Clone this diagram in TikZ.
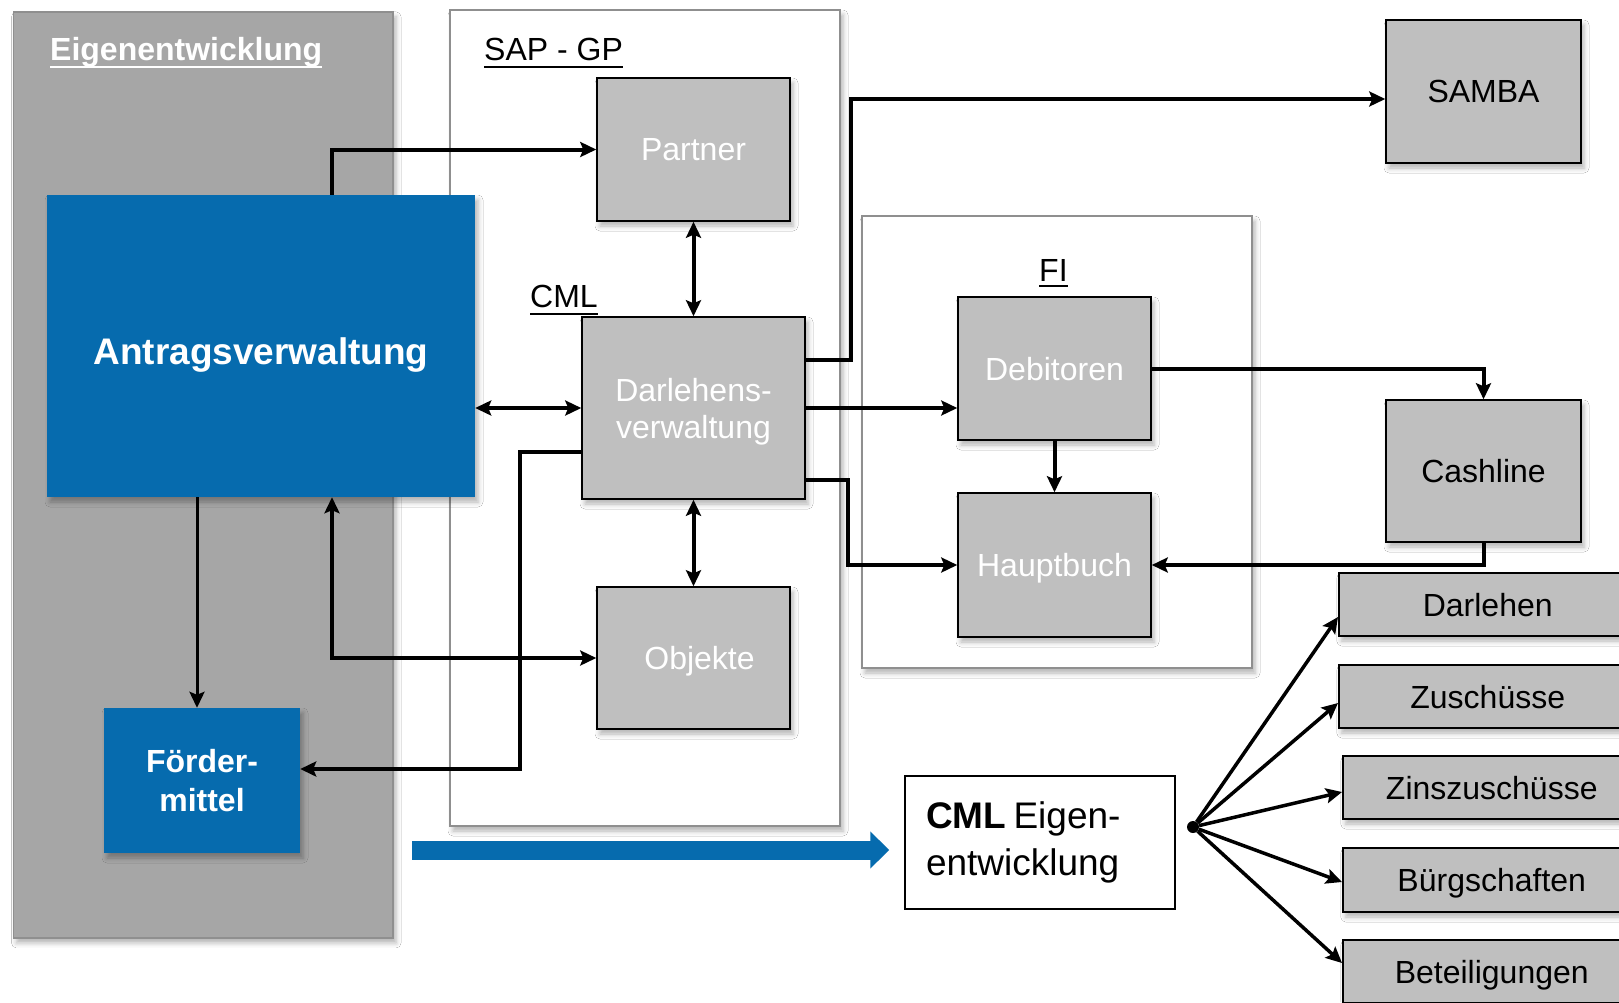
\documentclass[tikz,border=0pt]{standalone}
\usepackage{fontspec}
\setmainfont{Liberation Sans}
\usepackage{tikz}
\usetikzlibrary{arrows.meta, shadows.blur}
\definecolor{eigengrau}{HTML}{A6A6A6}
\definecolor{boxgrau}{HTML}{BFBFBF}
\definecolor{rahmengrau}{HTML}{8F8F8F}
\definecolor{kfwblau}{HTML}{066BAE}

\tikzset{
  schatten/.style={blur shadow={shadow xshift=3pt, shadow yshift=-5pt, shadow blur radius=5pt, shadow opacity=30}},
  rahmen/.style={draw=rahmengrau, line width=1.5pt, inner sep=0pt, schatten},
  modul/.style={draw=black, line width=1.5pt, fill=boxgrau, inner sep=0pt, align=center, text depth=0pt, font=\fontsize{32}{37}\selectfont, schatten},
  hellmodul/.style={modul, text=white},
  blaumodul/.style={fill=kfwblau, inner sep=0pt, align=center, text=white, font=\bfseries\fontsize{32}{39}\selectfont, schatten},
  listbox/.style={modul, minimum width=298pt, minimum height=63pt, anchor=west},
  titel/.style={font=\fontsize{32}{37}\selectfont, anchor=base west, inner sep=0pt},
  strich/.style={line width=2.3pt},
  pfeil/.style={line width=4pt, ->},
  doppelpfeil/.style={line width=4pt, <->},
}

\begin{document}
\begin{tikzpicture}[x=1pt, y=-1pt, >={Stealth[length=16pt, width=15pt, inset=3pt]}]
  \useasboundingbox (0,0) rectangle (1619,1002);
  \fill[white] (0,0) rectangle (1619,1002);

  % Rahmen
  \node[rahmen, fill=eigengrau, minimum width=379.5pt, minimum height=926pt] (eigen) at (203.3,474.9) {};
  \node[rahmen, fill=white, minimum width=390pt, minimum height=816pt] (sap) at (645,418) {};
  \node[rahmen, fill=white, minimum width=390pt, minimum height=452pt] (fi) at (1057,442) {};

  % Ueberschriften
  \node[titel, text=white, font=\bfseries\fontsize{32}{37}\selectfont] (eigentitel) at (50,60) {Eigenentwicklung};
  \node[titel] (saptitel) at (484,60) {SAP - GP\vphantom{g}};
  \node[titel] (cmltitel) at (530,307) {CML\vphantom{g}};
  \node[titel] (fititel) at (1039,281) {FI\vphantom{g}};
  \draw[strich, white] (eigentitel.south west) -- (eigentitel.south east);
  \draw[strich] (saptitel.south west) -- (saptitel.south east);
  \draw[strich] (cmltitel.south west) -- (cmltitel.south east);
  \draw[strich] ([yshift=2pt]fititel.south west) -- ([yshift=2pt]fititel.south east);

  % Module
  \node[blaumodul, minimum width=428pt, minimum height=302pt, text depth=0pt, font=\bfseries\fontsize{37}{44}\selectfont] (antrag) at (261,346) {\raisebox{-10pt}{Antragsverwaltung}};
  \node[blaumodul, minimum width=196pt, minimum height=145pt] (foerder) at (202,780.5) {Förder-\\mittel};
  \node[hellmodul, minimum width=193pt, minimum height=143pt] (partner) at (693.5,149.5) {Partner};
  \node[hellmodul, minimum width=223pt, minimum height=182pt] (darl) at (693.5,408) {Darlehens-\\verwaltung};
  \node[hellmodul, minimum width=193pt, minimum height=142pt] (objekte) at (693.5,658) {\hspace*{12pt}Objekte};
  \node[hellmodul, minimum width=193pt, minimum height=143pt] (debitoren) at (1054.5,368.5) {Debitoren};
  \node[hellmodul, minimum width=193pt, minimum height=144pt] (hauptbuch) at (1054.5,565) {Hauptbuch};
  \node[modul, minimum width=195pt, minimum height=143pt] (samba) at (1483.5,91.5) {SAMBA};
  \node[modul, minimum width=195pt, minimum height=142pt] (cashline) at (1483.5,471) {Cashline};

  % CML Eigenentwicklung und Produkte
  \node[draw=black, line width=1.5pt, fill=white, minimum width=270pt, minimum height=133pt, inner sep=0pt,
        text width=228pt, align=left, font=\fontsize{37}{47}\selectfont] (cmleigen) at (1040,842.5) {\textbf{CML}\hspace{0.2em}Eigen-\\entwicklung};
  \node[circle, fill=black, inner sep=0pt, minimum size=12pt] (knoten) at (1193,827) {};
  \node[listbox] (darlehen) at (1338,604.5) {Darlehen};
  \node[listbox] (zuschuesse) at (1338,696.5) {Zuschüsse};
  \node[listbox] (zins) at (1342,787.5) {Zinszuschüsse};
  \node[listbox, minimum height=64pt] (buerg) at (1342,880) {Bürgschaften};
  \node[listbox] (beteil) at (1342,971.5) {Beteiligungen};

  % Verbindungen
  \draw[pfeil] ([xshift=71pt]antrag.north) |- (partner.west);
  \draw[doppelpfeil] (partner.south) -- (darl.north);
  \draw[doppelpfeil] (antrag.east |- darl.west) -- (darl.west);
  \draw[pfeil] ([yshift=-44pt]darl.west) -- ++(-61pt,0) |- ([yshift=11.5pt]foerder.east);
  \coordinate (fo) at ([xshift=-5pt]foerder.north);
  \draw[pfeil, line width=3pt] (fo |- antrag.south) -- (fo);
  \draw[doppelpfeil] (objekte.west) -| ([xshift=71pt]antrag.south);
  \draw[doppelpfeil] (darl.south) -- (objekte.north);
  \draw[pfeil] ([yshift=48pt]darl.east) -- ++(45pt,0) |- ([yshift=-7.5pt]samba.west);
  \draw[pfeil] (darl.east) -- (darl.east -| debitoren.west);
  \draw[pfeil] ([yshift=-72pt]darl.east) -- ++(42pt,0) |- (hauptbuch.west);
  \draw[pfeil] (debitoren.east) -| (cashline.north);
  \draw[pfeil] (debitoren.south) -- (hauptbuch.north);
  \draw[pfeil] (cashline.south) |- (hauptbuch.east);
  \foreach \ziel/\dy in {darlehen/-12.5, zuschuesse/-6.5, zins/-4.5, buerg/-2, beteil/8.5}
    \draw[pfeil, line width=3.5pt] (knoten) -- ([yshift=\dy pt]\ziel.west);

  % blauer Pfeil
  \coordinate (blaustart) at (412,850);
  \draw[kfwblau, line width=19pt, -{Triangle[length=19pt, width=36pt]}, shorten >=15pt] (blaustart) -- (blaustart -| cmleigen.west);
\end{tikzpicture}
\end{document}
